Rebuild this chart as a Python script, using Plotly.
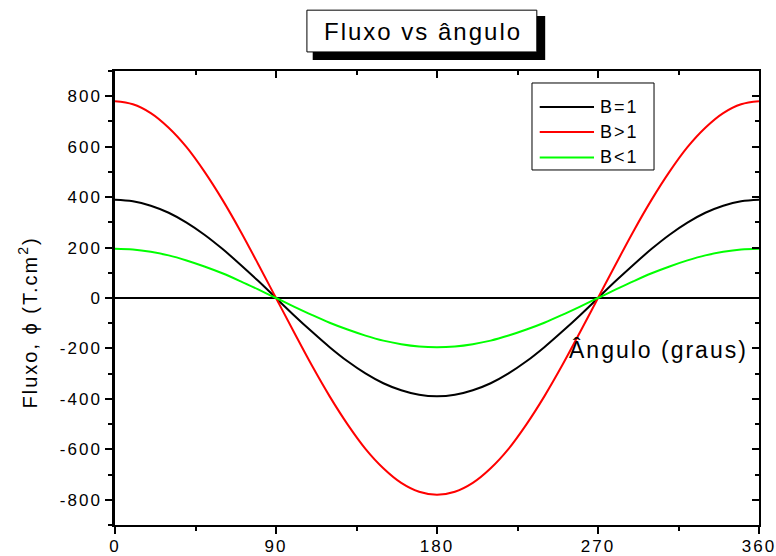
import plotly.graph_objects as go

angle = [0, 10, 20, 30, 40, 50, 60, 70, 80, 90, 100, 110, 120, 130, 140, 150, 160, 170, 180,
         190, 200, 210, 220, 230, 240, 250, 260, 270, 280, 290, 300, 310, 320, 330, 340, 350, 360]
b_eq = [390, 384, 366, 338, 299, 251, 195, 133, 68, 0, -68, -133, -195, -251, -299, -338, -366, -384, -390,
        -384, -366, -338, -299, -251, -195, -133, -68, 0, 68, 133, 195, 251, 299, 338, 366, 384, 390]
b_gt = [780, 768, 733, 675, 598, 501, 390, 267, 135, 0, -135, -267, -390, -501, -598, -675, -733, -768, -780,
        -768, -733, -675, -598, -501, -390, -267, -135, 0, 135, 267, 390, 501, 598, 675, 733, 768, 780]
b_lt = [195, 192, 183, 169, 149, 125, 98, 67, 34, 0, -34, -67, -98, -125, -149, -169, -183, -192, -195,
        -192, -183, -169, -149, -125, -98, -67, -34, 0, 34, 67, 98, 125, 149, 169, 183, 192, 195]

series_names = ["B=1", "B>1", "B<1"]
series_colors = ["#000000", "#ff0000", "#00ff00"]
x_ticks = [0, 90, 180, 270, 360]
x_ticktext = ["0", "90", "180", "270", "360"]
y_ticks = [-800, -600, -400, -200, 0, 200, 400, 600, 800]
y_ticktext = ["-800", "-600", "-400", "-200", "0", "200", "400", "600", "800"]

FONT = "Liberation Sans, Arial, sans-serif"

fig = go.Figure()
for name, vals, col in zip(series_names, [b_eq, b_gt, b_lt], series_colors):
    fig.add_trace(go.Scatter(x=angle, y=vals, mode="lines", name=name,
                             line=dict(color=col, width=2, shape="spline"),
                             hoverinfo="skip", showlegend=False))
# invisible trace for the mirrored (top/right) axes
fig.add_trace(go.Scatter(x=[0, 360], y=[0, 0], xaxis="x2", yaxis="y2", mode="lines",
                         line=dict(width=0), showlegend=False, hoverinfo="skip"))

tick_common = dict(tickwidth=1.5, tickcolor="black", showline=True, linecolor="black",
                   showgrid=False, automargin=False)

fig.update_layout(
    width=776, height=556,
    margin=dict(l=115, r=17, t=71, b=31, autoexpand=False),
    paper_bgcolor="white", plot_bgcolor="white",
    font=dict(family=FONT, color="black", size=17),
    showlegend=False,
    xaxis=dict(range=[0, 360], tickvals=x_ticks, ticktext=x_ticktext, ticks="outside", ticklen=7,
               linewidth=1.5, zeroline=False, ticklabelstandoff=-2,
               minor=dict(dtick=45, tick0=0, ticks="outside", ticklen=4, tickwidth=1.5, tickcolor="black"),
               tickfont=dict(size=17, family=FONT), **tick_common),
    yaxis=dict(range=[-900, 900], tickvals=y_ticks, ticktext=y_ticktext, ticks="outside", ticklen=7,
               linewidth=2.5, zeroline=True, zerolinecolor="black", zerolinewidth=1.5,
               minor=dict(dtick=100, tick0=0, ticks="outside", ticklen=4, tickwidth=1.5, tickcolor="black"),
               tickfont=dict(size=17, family=FONT), **tick_common),
    xaxis2=dict(range=[0, 360], overlaying="x", side="top", tickvals=x_ticks, ticks="inside",
                ticklen=7, showticklabels=False, linewidth=1.5, zeroline=False,
                minor=dict(dtick=45, tick0=0, ticks="inside", ticklen=4, tickwidth=1.5, tickcolor="black"),
                **tick_common),
    yaxis2=dict(range=[-900, 900], overlaying="y", side="right", tickvals=y_ticks, ticks="inside",
                ticklen=7, showticklabels=False, linewidth=1.5, zeroline=False,
                minor=dict(dtick=100, tick0=0, ticks="inside", ticklen=4, tickwidth=1.5, tickcolor="black"),
                **tick_common),
)

# legend drawn as a box with line samples and labels
fig.add_shape(type="rect", xref="paper", yref="paper", x0=0.6475, x1=0.837, y0=0.782, y1=0.9736,
              fillcolor="white", line=dict(color="black", width=1), layer="above")
row_y = [0.9207, 0.8656, 0.8095]
for name, col, ry in zip(series_names, series_colors, row_y):
    fig.add_shape(type="line", xref="paper", yref="paper", x0=0.6595, x1=0.7438, y0=ry, y1=ry,
                  line=dict(color=col, width=2), layer="above")
    fig.add_annotation(text=name, xref="paper", yref="paper", x=0.7545, y=ry,
                       showarrow=False, font=dict(size=18, family=FONT, color="black"),
                       xanchor="left", yanchor="middle")

# title box with shadow
fig.add_shape(type="rect", xref="paper", yref="paper", x0=0.307, x1=0.668, y0=1.024, y1=1.121,
              fillcolor="black", line=dict(width=0), layer="above")
fig.add_shape(type="rect", xref="paper", yref="paper", x0=0.298, x1=0.655, y0=1.042, y1=1.134,
              fillcolor="white", line=dict(color="black", width=1), layer="above")
fig.add_annotation(text="Fluxo vs ângulo", xref="paper", yref="paper", x=0.479, y=1.088,
                   showarrow=False, font=dict(size=24, family=FONT, color="black"),
                   xanchor="center", yanchor="middle")

# axis titles
fig.add_annotation(text="Ângulo (graus)", xref="x", yref="y", x=304, y=-207,
                   showarrow=False, font=dict(size=23, family=FONT, color="black"),
                   xanchor="center", yanchor="middle")
fig.add_annotation(text="Fluxo, \u03d5 (T.cm<sup>2</sup>)", xref="paper", yref="paper",
                   x=-0.136, y=0.447, textangle=-90, showarrow=False,
                   font=dict(size=20, family=FONT, color="black"),
                   xanchor="center", yanchor="middle")

post = ("document.body.style.margin='0';document.body.style.padding='0';"
        "document.querySelectorAll('.main-svg text').forEach(function(t){"
        "t.style.letterSpacing='2px';});")
fig.write_html("out.html", post_script=post, config={"displayModeBar": False})
